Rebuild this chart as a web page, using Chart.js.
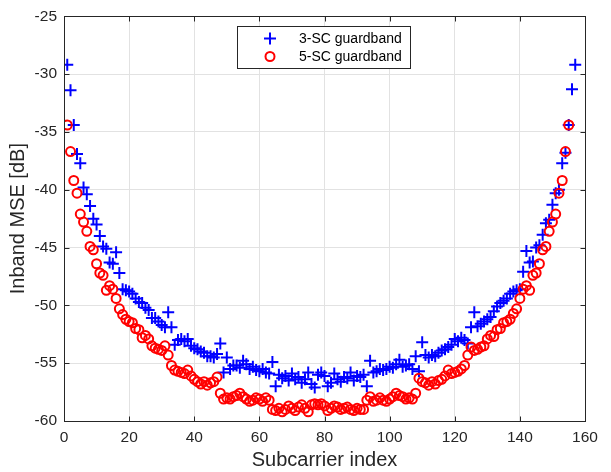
<!DOCTYPE html>
<html>
<head>
<meta charset="utf-8">
<script src="https://cdn.jsdelivr.net/npm/chart.js@4.4.1/dist/chart.umd.min.js"></script>
<style>
  html, body { margin: 0; padding: 0; background: #ffffff; }
  canvas { display: block; }
</style>
</head>
<body>
<canvas id="mse-chart" width="611" height="472"></canvas>
<script>
// Inband MSE per subcarrier (dB)
const guard3Mse = [
  -29.2, -31.4, -34.4, -36.9, -37.7, -39.8, -40.4, -41.4, -42.5, -43.0,
  -44.0, -44.9, -45.1, -46.3, -46.4, -45.4, -47.2, -48.6, -48.7, -48.8,
  -49.0, -49.4, -49.7, -49.8, -50.2, -50.4, -51.1, -51.1, -51.4, -51.7,
  -51.9, -50.6, -51.9, -53.4, -53.0, -52.9, -53.1, -52.9, -53.5, -53.7,
  -53.8, -54.0, -54.1, -54.4, -54.4, -54.5, -54.2, -53.3, -55.8, -54.5,
  -55.5, -55.2, -55.2, -55.4, -54.8, -55.1, -55.5, -55.3, -55.6, -55.7,
  -55.5, -55.8, -55.9, -54.9, -57.0, -56.0, -56.3, -56.1, -56.5, -55.9,
  -56.4, -56.2, -56.7, -56.4, -55.8, -56.8, -57.1, -56.0, -55.8, -56.1,
  -57.0, -56.7, -55.9, -56.4, -56.6, -56.2, -56.3, -55.8, -56.5, -56.1,
  -56.2, -56.0, -57.0, -54.8, -55.8, -55.7, -55.5, -55.6, -55.5, -55.3,
  -55.4, -55.1, -54.7, -55.3, -55.2, -55.1, -55.5, -54.4, -55.7, -53.2,
  -54.3, -54.5, -54.3, -54.4, -54.1, -53.9, -53.8, -53.6, -53.4, -52.9,
  -53.1, -52.8, -53.0, -53.3, -51.9, -50.6, -51.8, -51.6, -51.4, -51.2,
  -51.0, -50.5, -50.1, -49.8, -49.6, -49.4, -49.0, -48.8, -48.7, -48.6,
  -47.1, -45.3, -46.3, -46.2, -45.0, -44.8, -43.9, -42.9, -42.6, -41.3,
  -40.3, -40.0, -37.7, -36.8, -34.4, -31.3, -29.2
];
const guard5Mse = [
  -34.4, -36.7, -39.2, -40.3, -42.1, -42.8, -43.6, -44.9, -45.2, -46.4,
  -47.2, -47.4, -48.7, -48.3, -48.6, -49.4, -50.3, -50.8, -51.2, -51.4,
  -51.5, -52.0, -52.1, -52.8, -52.6, -52.9, -53.5, -53.7, -53.8, -53.9,
  -53.5, -54.3, -55.2, -55.6, -55.7, -55.8, -55.9, -55.6, -56.1, -56.4,
  -56.6, -56.8, -56.6, -56.9, -56.7, -56.6, -56.2, -57.6, -58.1, -58.0,
  -58.1, -57.9, -57.8, -57.6, -57.9, -58.1, -58.3, -58.2, -58.0, -58.1,
  -58.3, -58.0, -58.2, -59.0, -59.1, -58.9, -59.2, -59.0, -58.7, -58.9,
  -59.1, -58.8, -58.6, -58.9, -59.2, -58.6, -58.5, -58.6, -58.5, -58.7,
  -59.1, -58.9, -58.7, -58.8, -59.0, -58.9, -58.8, -59.0, -59.1, -58.9,
  -59.0, -59.0, -58.2, -57.9, -58.3, -58.2, -58.0, -58.2, -58.3, -58.1,
  -57.9, -57.6, -57.8, -57.9, -58.1, -58.0, -58.1, -57.6, -56.3, -56.6,
  -56.7, -56.9, -56.6, -56.8, -56.5, -56.4, -56.1, -55.6, -55.9, -55.8,
  -55.7, -55.5, -55.2, -54.3, -53.6, -53.9, -53.8, -53.6, -53.5, -52.9,
  -52.6, -52.7, -52.1, -52.0, -51.5, -51.4, -51.2, -50.7, -50.3, -49.4,
  -48.6, -48.3, -48.7, -47.4, -47.2, -46.4, -45.2, -44.9, -43.6, -42.8,
  -42.1, -40.3, -39.2, -36.7, -34.4
];
const seriesLabels = ["3-SC guardband", "5-SC guardband"];
const xTicks = [0, 20, 40, 60, 80, 100, 120, 140, 160];
const yTicks = [-60, -55, -50, -45, -40, -35, -30, -25];

const FONT = "'Liberation Sans', Arial, Helvetica, sans-serif";
const AXIS_COLOR = "#262626";

// subcarrier index starts at 1
function toPoints(values) {
  return values.map((v, i) => ({ x: i + 1, y: v }));
}

// box, inward tick marks and the legend, MATLAB style
const matlabFrame = {
  id: "matlabFrame",
  afterDraw(chart) {
    const ctx = chart.ctx;
    const area = chart.chartArea;
    const xs = chart.scales.x;
    const ys = chart.scales.y;
    const L = Math.round(area.left) + 0.5;
    const R = Math.round(area.right) + 0.5;
    const T = Math.round(area.top) + 0.5;
    const B = Math.round(area.bottom) + 0.5;
    const tick = 5;

    ctx.save();
    ctx.strokeStyle = AXIS_COLOR;
    ctx.lineWidth = 1;
    ctx.beginPath();
    xTicks.forEach(v => {
      const px = Math.round(xs.getPixelForValue(v)) + 0.5;
      ctx.moveTo(px, B); ctx.lineTo(px, B - tick);
      ctx.moveTo(px, T); ctx.lineTo(px, T + tick);
    });
    yTicks.forEach(v => {
      const py = Math.round(ys.getPixelForValue(v)) + 0.5;
      ctx.moveTo(L, py); ctx.lineTo(L + tick, py);
      ctx.moveTo(R, py); ctx.lineTo(R - tick, py);
    });
    ctx.stroke();
    ctx.strokeRect(L, T, R - L, B - T);

    // legend
    const lx = 237.5, ly = 26.5, lw = 173, lh = 42;
    ctx.fillStyle = "#ffffff";
    ctx.fillRect(lx, ly, lw, lh);
    ctx.strokeStyle = AXIS_COLOR;
    ctx.strokeRect(lx, ly, lw, lh);

    const mx = 270;
    const rows = [38.5, 56.5];
    ctx.lineWidth = 2;
    ctx.strokeStyle = "#0000ff";
    ctx.beginPath();
    ctx.moveTo(mx - 6, rows[0]); ctx.lineTo(mx + 6, rows[0]);
    ctx.moveTo(mx, rows[0] - 6); ctx.lineTo(mx, rows[0] + 6);
    ctx.stroke();
    ctx.strokeStyle = "#ff0000";
    ctx.beginPath();
    ctx.arc(mx, rows[1], 4.5, 0, Math.PI * 2);
    ctx.stroke();

    ctx.fillStyle = "#000000";
    ctx.font = "14px " + FONT;
    ctx.textAlign = "left";
    ctx.textBaseline = "middle";
    ctx.fillText(seriesLabels[0], 299, rows[0] + 0.5);
    ctx.fillText(seriesLabels[1], 299, rows[1] + 0.5);
    ctx.restore();
  }
};

const ctx = document.getElementById("mse-chart").getContext("2d");
new Chart(ctx, {
  type: "scatter",
  data: {
    datasets: [
      {
        label: seriesLabels[0],
        data: toPoints(guard3Mse),
        pointStyle: "cross",
        pointRadius: 6,
        pointBorderWidth: 2,
        borderColor: "#0000ff",
        backgroundColor: "#0000ff",
        order: 2
      },
      {
        label: seriesLabels[1],
        data: toPoints(guard5Mse),
        pointStyle: "circle",
        pointRadius: 4.5,
        pointBorderWidth: 2,
        borderColor: "#ff0000",
        backgroundColor: "rgba(0,0,0,0)",
        order: 1
      }
    ]
  },
  options: {
    responsive: false,
    animation: false,
    events: [],
    layout: { padding: { left: 0, top: 9, right: 26, bottom: 0 } },
    plugins: {
      legend: { display: false },
      tooltip: { enabled: false }
    },
    scales: {
      x: {
        type: "linear",
        min: 0,
        max: 160,
        afterBuildTicks: s => { s.ticks = xTicks.map(v => ({ value: v })); },
        afterFit: s => { s.height = 51; },
        ticks: {
          color: AXIS_COLOR,
          padding: 7,
          maxRotation: 0,
          font: { family: FONT, size: 15.5 }
        },
        grid: { color: "#e2e2e2", lineWidth: 1, drawTicks: false },
        border: { display: false },
        title: {
          display: true,
          text: "Subcarrier index",
          color: AXIS_COLOR,
          padding: { top: 0, bottom: 0 },
          font: { family: FONT, size: 20 }
        }
      },
      y: {
        type: "linear",
        min: -60,
        max: -25,
        afterBuildTicks: s => { s.ticks = yTicks.map(v => ({ value: v })); },
        afterFit: s => { s.width = 64; },
        ticks: {
          color: AXIS_COLOR,
          padding: 7,
          font: { family: FONT, size: 15.5 }
        },
        grid: { color: "#e2e2e2", lineWidth: 1, drawTicks: false },
        border: { display: false },
        title: {
          display: true,
          text: "Inband MSE [dB]",
          color: AXIS_COLOR,
          padding: { top: 6, bottom: 0 },
          font: { family: FONT, size: 20 }
        }
      }
    }
  },
  plugins: [matlabFrame]
});
</script>
</body>
</html>
